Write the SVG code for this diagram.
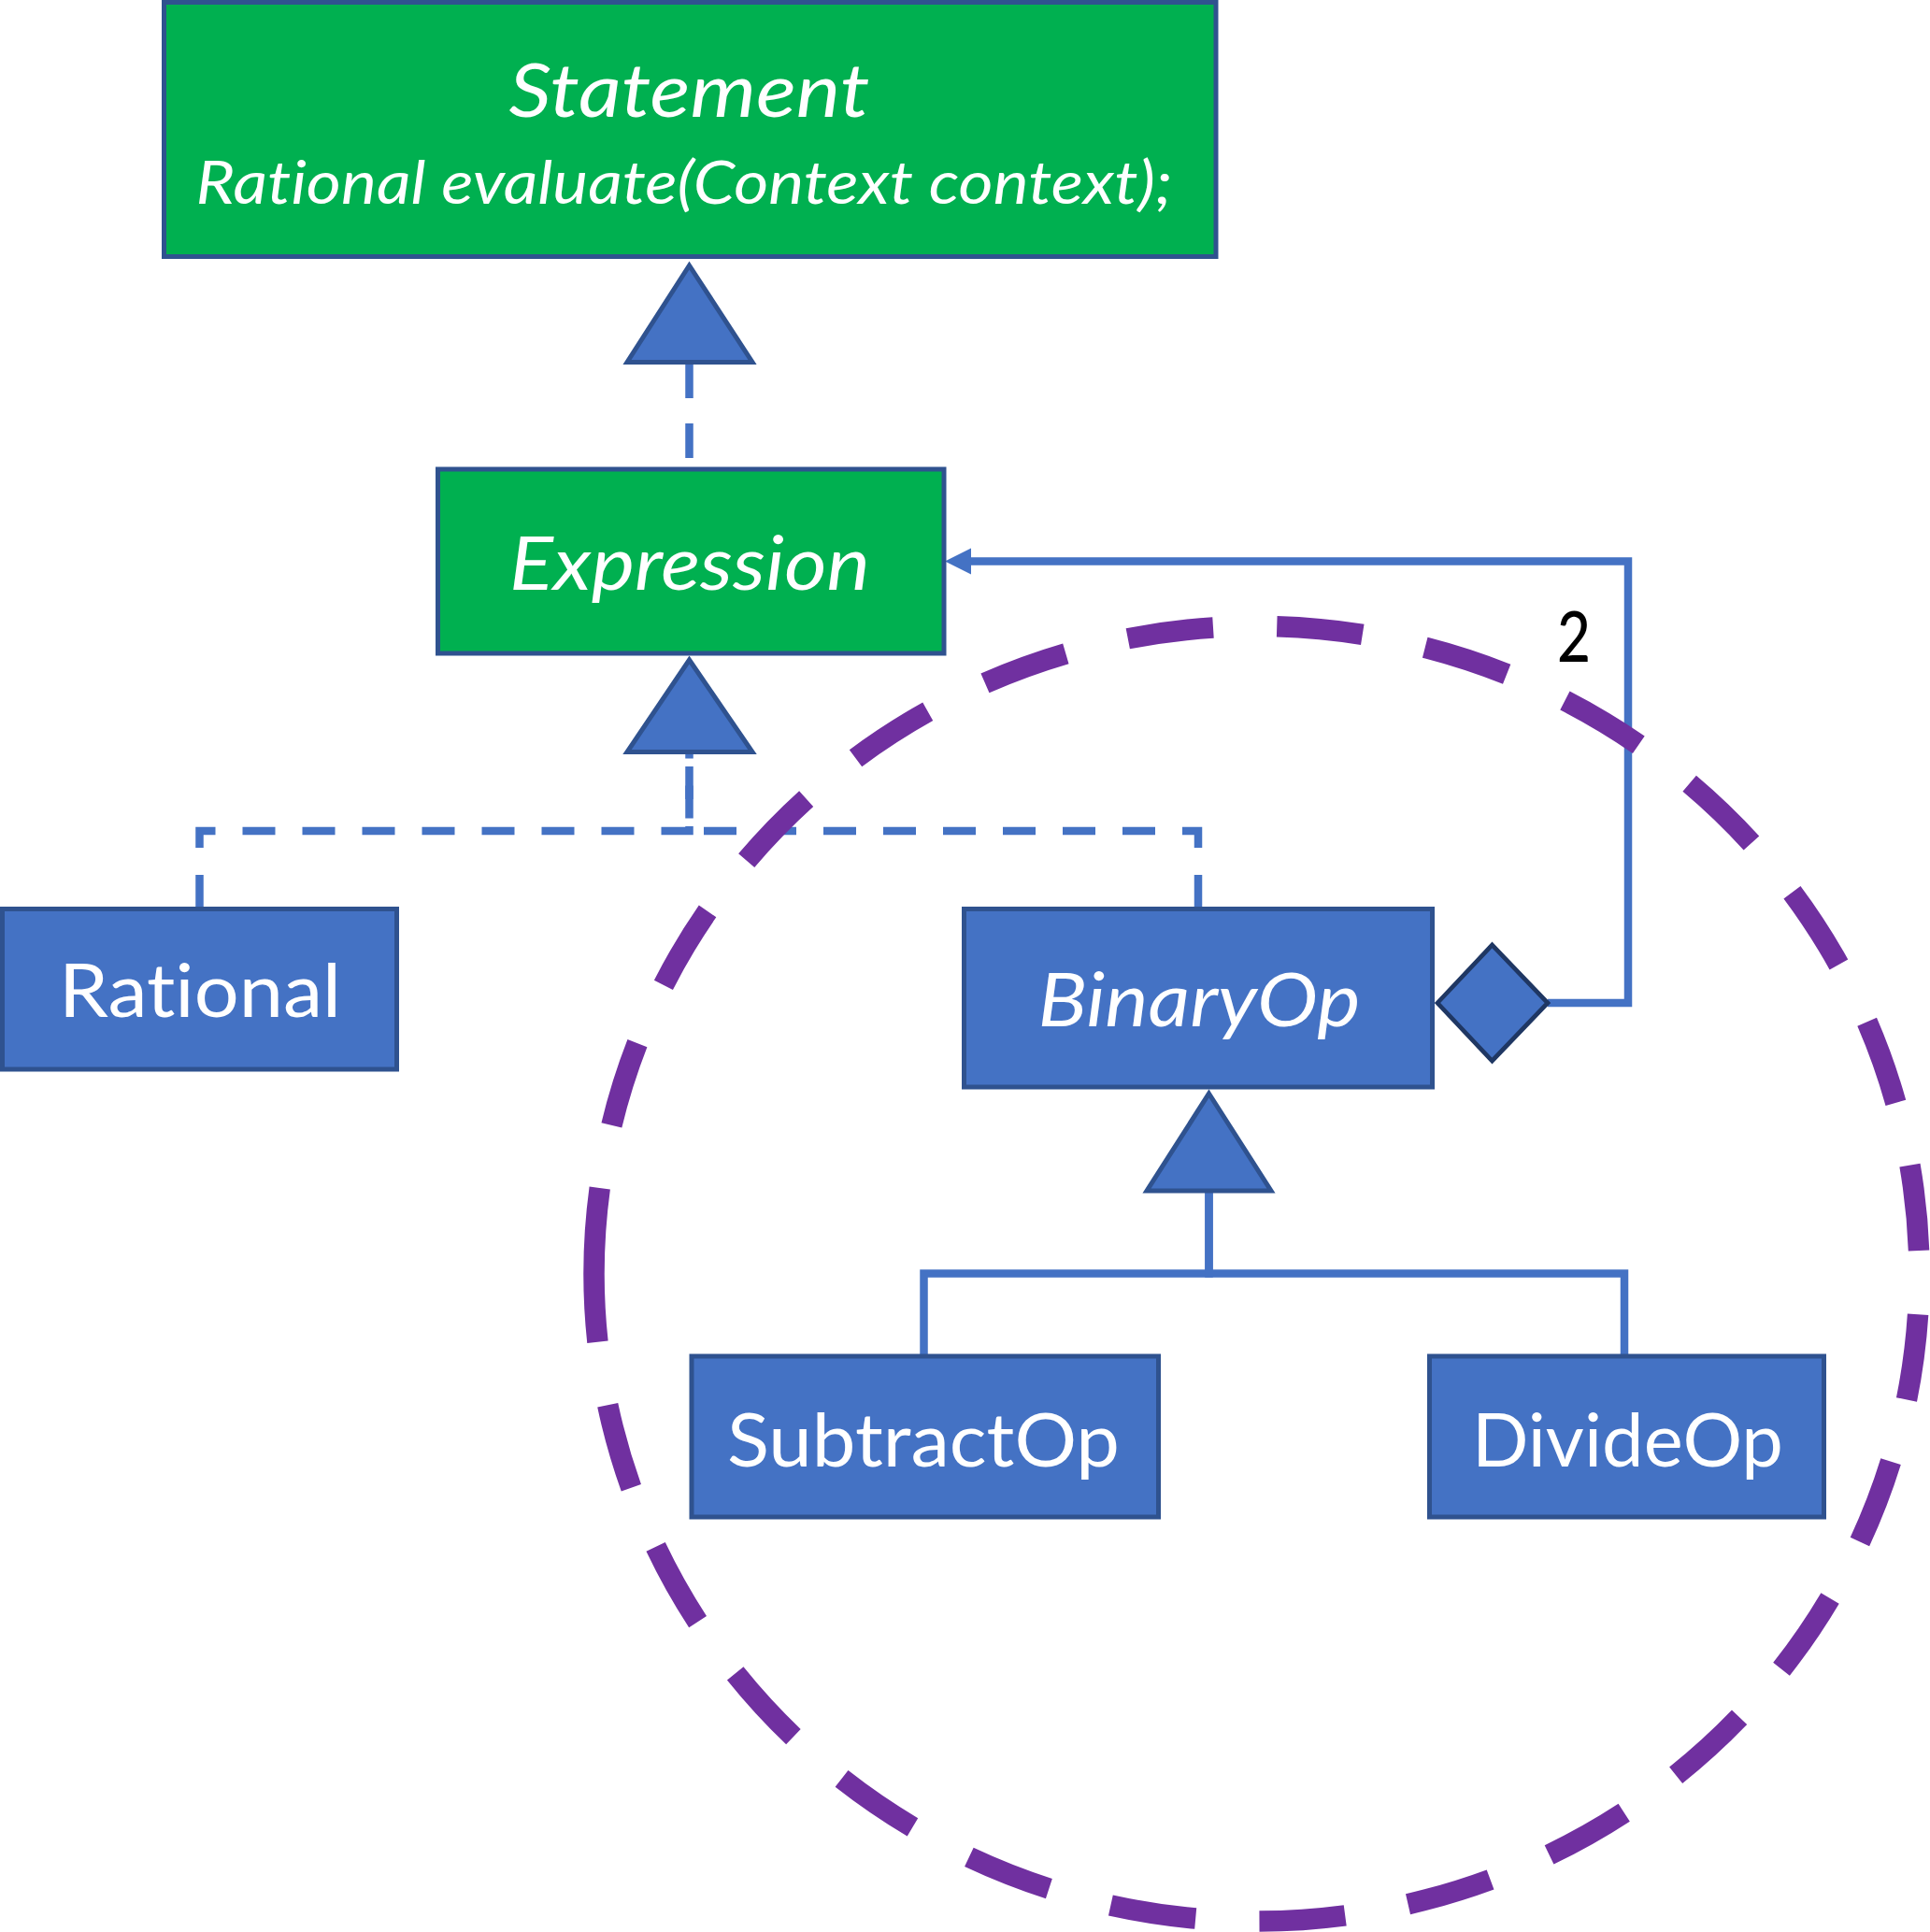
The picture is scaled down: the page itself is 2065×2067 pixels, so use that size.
<svg xmlns="http://www.w3.org/2000/svg" width="2065" height="2067" viewBox="0 0 2065 2067">
<style>
text{font-variant-ligatures:none;font-feature-settings:"liga" 0,"clig" 0}
.green{fill:#00B050;stroke:#2F528F;stroke-width:5}
.blue{fill:#4472C4;stroke:#2F528F;stroke-width:5}
.lbl{font-family:Lato,"Liberation Sans",sans-serif;fill:#FFFFFF;text-anchor:middle}
.it{font-style:italic}
.conn{fill:none;stroke:#4472C4;stroke-width:8.5;stroke-linejoin:miter;stroke-linecap:butt}
.d1{stroke-dasharray:37 27}
.d2{stroke-dasharray:35 29}
.tri{fill:#4472C4;stroke:#2F528F;stroke-width:5;stroke-linejoin:miter}
.dia{fill:#4472C4;stroke:#1F3763;stroke-width:4.7;stroke-linejoin:miter}
</style>
<rect width="2065" height="2067" fill="#FFFFFF"/>
<g id="connectors">
  <path class="conn d1" d="M737.5 389 V500"/>
  <path class="conn d2" d="M213.5 971 V889 H737.5 V806"/>
  <path class="conn d2" d="M1282 971 V889 H737.5 V806"/>
  <path class="conn" d="M988.5 1450 V1362.5 H1293.5 V1276"/>
  <path class="conn" d="M1738 1450 V1362.5 H1293.5 V1276"/>
  <path class="conn" d="M1656 1073 H1742 V600.5 H1034"/>
  <polygon points="1011,600.5 1039,586.5 1039,614.5" fill="#4472C4"/>
  <polygon class="tri" points="737.5,284 805,387.5 671,387.5"/>
  <polygon class="tri" points="737.5,706 805,804.5 671,804.5"/>
  <polygon class="tri" points="1293.5,1170 1360,1274 1227,1274"/>
  <polygon class="dia" points="1538,1073 1596.5,1011 1656,1073 1596.5,1135"/>
  <text x="1684" y="708" font-family="Lato, 'Liberation Sans', sans-serif" font-size="76" font-weight="500" fill="#000000" text-anchor="middle" textLength="36" lengthAdjust="spacingAndGlyphs">2</text>
</g>
<g id="statement">
  <rect class="green" x="175.5" y="2.5" width="1125.5" height="272"/>
  <text class="lbl it" x="737.5" y="125" font-size="80" textLength="386" lengthAdjust="spacingAndGlyphs">Statement</text>
  <text class="lbl it" x="732" y="218" font-size="64" textLength="1045" lengthAdjust="spacingAndGlyphs">Rational evaluate(Context context);</text>
</g>
<g id="expression">
  <rect class="green" x="468.5" y="502" width="541.5" height="197"/>
  <text class="lbl it" x="738" y="631" font-size="80" textLength="386" lengthAdjust="spacingAndGlyphs">Expression</text>
</g>
<g id="rational">
  <rect class="blue" x="2.5" y="972.5" width="422" height="171.5"/>
  <text class="lbl" x="214" y="1088" font-size="80" textLength="302" lengthAdjust="spacingAndGlyphs">Rational</text>
</g>
<g id="binaryop">
  <rect class="blue" x="1031.5" y="972.5" width="501" height="190.5"/>
  <text class="lbl it" x="1283" y="1098" font-size="80" textLength="345" lengthAdjust="spacingAndGlyphs">BinaryOp</text>
</g>
<g id="subtractop">
  <rect class="blue" x="740" y="1451" width="499.5" height="172"/>
  <text class="lbl" x="988" y="1569" font-size="80" textLength="420" lengthAdjust="spacingAndGlyphs">SubtractOp</text>
</g>
<g id="divideop">
  <rect class="blue" x="1529.5" y="1451" width="422" height="172"/>
  <text class="lbl" x="1741.5" y="1569" font-size="80" textLength="333" lengthAdjust="spacingAndGlyphs">DivideOp</text>
</g>
<g id="boundary">
  <path d="M635.5 1362.75 A709 692.75 0 0 1 2053.5 1362.75 A709 692.75 0 0 1 635.5 1362.75 Z" fill="none" stroke="#7030A0" stroke-width="22.5" pathLength="4404" stroke-dasharray="92 68.4"/>
</g>
</svg>
